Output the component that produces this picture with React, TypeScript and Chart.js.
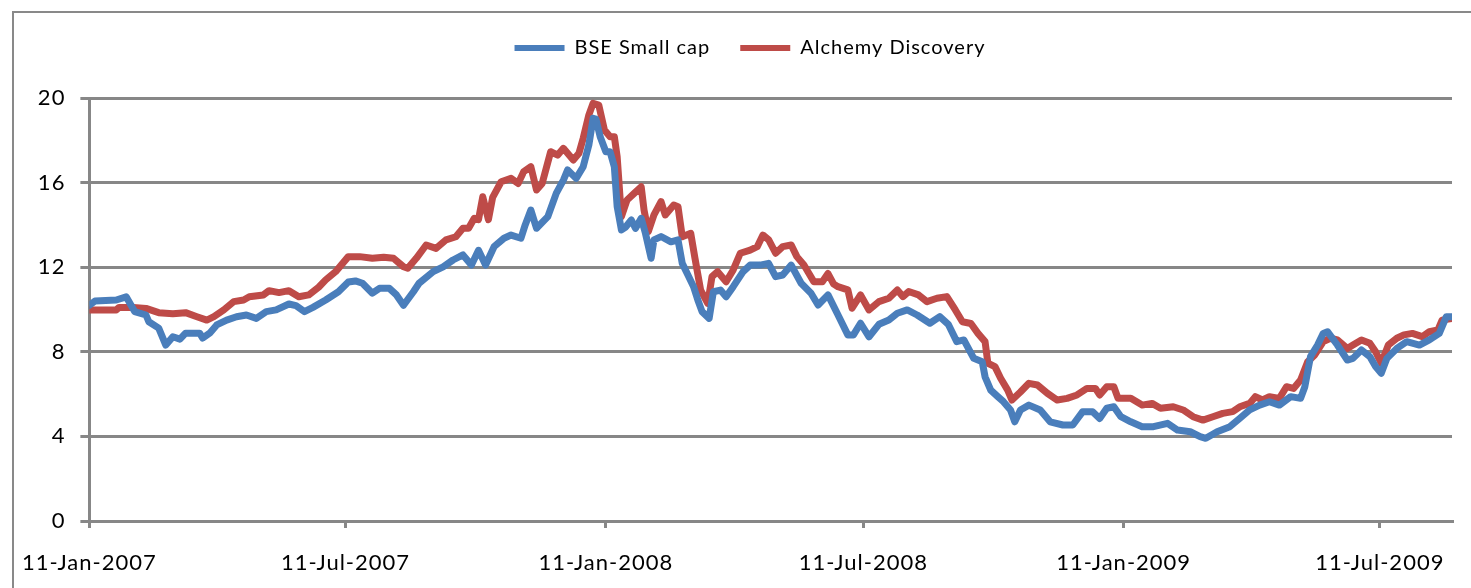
import { useEffect, useRef } from "react";
import { Chart, registerables } from "chart.js";

Chart.register(...registerables);

// Days since 11-Jan-2007
const bseDays = [
  0, 4, 19, 26, 32, 40, 42, 49, 54, 59, 64, 68, 78, 80, 85, 90, 97, 104, 111, 118,
  125, 132, 141, 146, 152, 158, 167, 176, 183, 188, 193, 200, 205, 212, 217, 222, 229, 233, 243, 250,
  257, 264, 270, 275, 280, 286, 293, 298, 305, 308, 312, 316, 324, 330, 335, 338, 344, 349, 353, 356,
  358, 361, 365, 368, 371, 373, 376, 379, 383, 386, 390, 393, 397, 399, 404, 411, 416, 419, 423, 427,
  430, 433, 438, 441, 446, 450, 455, 462, 467, 474, 480, 485, 490, 496, 503, 510, 515, 522, 529, 536,
  540, 545, 551, 558, 565, 571, 578, 585, 594, 601, 607, 613, 618, 625, 631, 633, 637, 642, 646, 651,
  654, 658, 664, 672, 679, 688, 695, 702, 709, 714, 719, 724, 729, 736, 744, 752, 762, 769, 778, 785,
  789, 797, 806, 813, 820, 827, 834, 841, 849, 856, 859, 863, 868, 872, 875, 882, 889, 893, 899, 905,
  909, 913, 917, 924, 931, 940, 947, 954, 959, 963,
];
const bseValues = [
  10.2, 10.4, 10.45, 10.6, 9.9, 9.74, 9.42, 9.12, 8.32, 8.71, 8.6, 8.88, 8.88, 8.65, 8.88, 9.27, 9.5, 9.66, 9.74, 9.58,
  9.9, 9.98, 10.26, 10.18, 9.9, 10.1, 10.45, 10.84, 11.3, 11.35, 11.24, 10.77, 11.0, 11.0, 10.69, 10.2, 10.84, 11.24, 11.79, 12.02,
  12.34, 12.58, 12.1, 12.8, 12.1, 12.97, 13.37, 13.52, 13.37, 14.0, 14.7, 13.84, 14.39, 15.5, 16.12, 16.6, 16.2, 16.75, 17.78, 19.04,
  19.0, 18.17, 17.46, 17.46, 16.75, 14.86, 13.76, 13.9, 14.23, 13.84, 14.31, 13.6, 12.42, 13.29, 13.45, 13.2, 13.29, 12.18, 11.63, 11.08,
  10.45, 9.9, 9.58, 10.84, 10.92, 10.6, 11.08, 11.79, 12.1, 12.1, 12.18, 11.55, 11.63, 12.1, 11.24, 10.77, 10.21, 10.69, 9.75, 8.8,
  8.8, 9.35, 8.71, 9.3, 9.5, 9.82, 9.98, 9.74, 9.35, 9.66, 9.3, 8.48, 8.56, 7.69, 7.53, 6.82, 6.19, 5.88, 5.64, 5.25,
  4.69, 5.25, 5.48, 5.25, 4.69, 4.54, 4.54, 5.17, 5.17, 4.85, 5.33, 5.4, 4.93, 4.69, 4.46, 4.46, 4.62, 4.3, 4.22, 3.99,
  3.91, 4.22, 4.46, 4.85, 5.25, 5.48, 5.64, 5.48, 5.88, 5.8, 6.35, 7.77, 8.32, 8.87, 8.95, 8.32, 7.61, 7.69, 8.09, 7.77,
  7.3, 6.98, 7.69, 8.16, 8.48, 8.32, 8.56, 8.87, 9.66, 9.66,
];

const alchemyDays = [
  0, 19, 21, 31, 40, 49, 59, 68, 76, 83, 88, 95, 102, 109, 113, 123, 127, 134, 141, 148,
  155, 162, 167, 174, 183, 191, 200, 208, 215, 222, 225, 231, 238, 245, 252, 259, 264, 268, 272, 275,
  278, 282, 285, 291, 298, 303, 307, 312, 316, 320, 326, 331, 335, 342, 346, 349, 353, 356, 360, 364,
  368, 371, 373, 376, 380, 385, 390, 392, 395, 399, 404, 407, 413, 416, 419, 425, 428, 432, 437, 440,
  444, 450, 455, 460, 467, 472, 476, 480, 485, 490, 496, 500, 505, 512, 518, 522, 526, 529, 536, 539,
  545, 551, 558, 565, 571, 575, 579, 586, 592, 599, 606, 612, 617, 623, 628, 633, 635, 640, 644, 649,
  652, 658, 664, 670, 677, 684, 691, 698, 705, 711, 714, 719, 724, 727, 736, 744, 751, 757, 766, 773,
  780, 787, 794, 801, 808, 813, 820, 824, 829, 834, 841, 846, 851, 856, 861, 866, 872, 877, 882, 889,
  893, 899, 905, 909, 913, 918, 924, 929, 935, 942, 947, 953, 956, 963,
];
const alchemyValues = [
  9.98, 9.98, 10.1, 10.1, 10.05, 9.85, 9.8, 9.85, 9.66, 9.5, 9.66, 9.98, 10.37, 10.45, 10.6, 10.69, 10.89, 10.8, 10.89, 10.6,
  10.69, 11.05, 11.4, 11.79, 12.5, 12.5, 12.42, 12.47, 12.42, 12.02, 11.95, 12.42, 13.05, 12.89, 13.29, 13.44, 13.84, 13.84, 14.31, 14.25,
  15.33, 14.25, 15.3, 16.04, 16.2, 15.96, 16.52, 16.75, 15.65, 15.96, 17.46, 17.3, 17.62, 17.07, 17.39, 18.1, 19.2, 19.75, 19.67, 18.49,
  18.17, 18.17, 17.22, 14.39, 15.18, 15.49, 15.8, 14.7, 13.68, 14.47, 15.1, 14.47, 14.94, 14.86, 13.44, 13.6, 12.42, 10.92, 10.29, 11.55,
  11.79, 11.31, 11.87, 12.66, 12.81, 12.97, 13.52, 13.3, 12.66, 12.97, 13.05, 12.5, 12.1, 11.31, 11.31, 11.7, 11.2, 11.08, 10.93, 10.06,
  10.69, 9.98, 10.37, 10.53, 10.92, 10.61, 10.85, 10.69, 10.37, 10.53, 10.61, 9.98, 9.42, 9.34, 8.87, 8.48, 7.46, 7.3, 6.75, 6.19,
  5.72, 6.1, 6.51, 6.43, 6.04, 5.72, 5.8, 5.96, 6.27, 6.27, 5.96, 6.35, 6.35, 5.8, 5.8, 5.48, 5.56, 5.33, 5.4, 5.25,
  4.93, 4.77, 4.93, 5.09, 5.17, 5.4, 5.56, 5.88, 5.72, 5.88, 5.8, 6.35, 6.27, 6.67, 7.53, 7.85, 8.48, 8.64, 8.56, 8.16,
  8.32, 8.56, 8.4, 8.0, 7.46, 8.32, 8.64, 8.8, 8.87, 8.72, 8.95, 9.03, 9.5, 9.58,
];

const seriesNames = ["BSE Small cap", "Alchemy Discovery"];
const seriesColors = ["#4A7EBB", "#BE4B48"];
const tickDays = [0, 181, 365, 547, 731, 912];
const tickLabels = ["11-Jan-2007", "11-Jul-2007", "11-Jan-2008", "11-Jul-2008", "11-Jan-2009", "11-Jul-2009"];
const lastDay = 963;
const yMin = 0;
const yMax = 20;
const yStep = 4;

const FONT = "Lato, 'Noto Sans', sans-serif";
const GRID = "#878787";

const textStyle = {
  id: "textStyle",
  beforeUpdate(chart: any) {
    chart.ctx.letterSpacing = "1px";
  },
  beforeDraw(chart: any) {
    chart.ctx.letterSpacing = "1px";
  },
};

const legendSpacer = {
  id: "legendSpacer",
  beforeInit(chart: any) {
    const legend = chart.legend;
    if (!legend) return;
    const origFit = legend.fit;
    legend.fit = function () {
      origFit.call(this);
      this.height += 30;
    };
  },
  afterLayout(chart: any) {
    const legend = chart.legend;
    if (!legend) return;
    legend.left = 24;
    legend.right = chart.width - 19 + 24;
  },
};

export default function App() {
  const ref = useRef<HTMLCanvasElement>(null);

  useEffect(() => {
    const chart = new Chart(ref.current as HTMLCanvasElement, {
      type: "line",
      data: {
        datasets: [
          {
            label: seriesNames[0],
            data: bseDays.map((d, i) => ({ x: d, y: bseValues[i] })),
            borderColor: seriesColors[0],
            backgroundColor: seriesColors[0],
            borderWidth: 7,
            pointRadius: 0,
            tension: 0,
            borderJoinStyle: "round",
            borderCapStyle: "round",
          },
          {
            label: seriesNames[1],
            data: alchemyDays.map((d, i) => ({ x: d, y: alchemyValues[i] })),
            borderColor: seriesColors[1],
            backgroundColor: seriesColors[1],
            borderWidth: 7,
            pointRadius: 0,
            tension: 0,
            borderJoinStyle: "round",
            borderCapStyle: "round",
          },
        ],
      },
      options: {
        animation: false,
        responsive: false,
        maintainAspectRatio: false,
        layout: { padding: { left: 0, right: 19, top: 8, bottom: 0 } },
        plugins: {
          tooltip: { enabled: false },
          legend: {
            display: true,
            position: "top",
            labels: {
              boxWidth: 50,
              boxHeight: 6,
              padding: 30,
              color: "#000",
              font: { family: FONT, size: 20 },
              generateLabels: (c: any) =>
                c.data.datasets.map((ds: any, i: number) => ({
                  text: ds.label,
                  fillStyle: ds.borderColor,
                  strokeStyle: ds.borderColor,
                  lineWidth: 0,
                  hidden: false,
                  datasetIndex: i,
                  fontColor: "#000",
                })),
            },
          },
        },
        scales: {
          x: {
            type: "linear",
            min: 0,
            max: lastDay,
            afterBuildTicks: (s: any) => {
              s.ticks = tickDays.map((v) => ({ value: v }));
            },
            afterFit: (s: any) => {
              s.height = 67;
            },
            ticks: {
              autoSkip: false,
              maxRotation: 0,
              padding: 22,
              color: "#000",
              font: { family: FONT, size: 22 },
              callback: (v: any) => {
                const i = tickDays.indexOf(Number(v));
                return i >= 0 ? tickLabels[i] : "";
              },
            },
            grid: {
              drawOnChartArea: false,
              drawTicks: true,
              tickLength: 7,
              color: GRID,
              lineWidth: 3,
            },
            border: { color: GRID, width: 3 },
          },
          y: {
            min: yMin,
            max: yMax,
            afterFit: (s: any) => {
              s.width = 86;
            },
            ticks: {
              stepSize: yStep,
              padding: 15,
              color: "#000",
              font: { family: FONT, size: 22 },
            },
            grid: { color: GRID, lineWidth: 3, tickLength: 9 },
            border: { color: GRID, width: 3 },
          },
        },
      },
      plugins: [textStyle, legendSpacer],
    } as any);
    return () => chart.destroy();
  }, []);

  return (
    <div style={{ position: "fixed", left: 0, top: 0, width: 1471, height: 588, background: "#fff", overflow: "hidden" }}>
      <div
        style={{
          position: "absolute",
          left: 12,
          top: 11,
          width: 1500,
          height: 700,
          border: "2px solid #898989",
        }}
      />
      <canvas ref={ref} width={1471} height={588} style={{ position: "absolute", left: 0, top: 0, width: 1471, height: 588 }} />
    </div>
  );
}
